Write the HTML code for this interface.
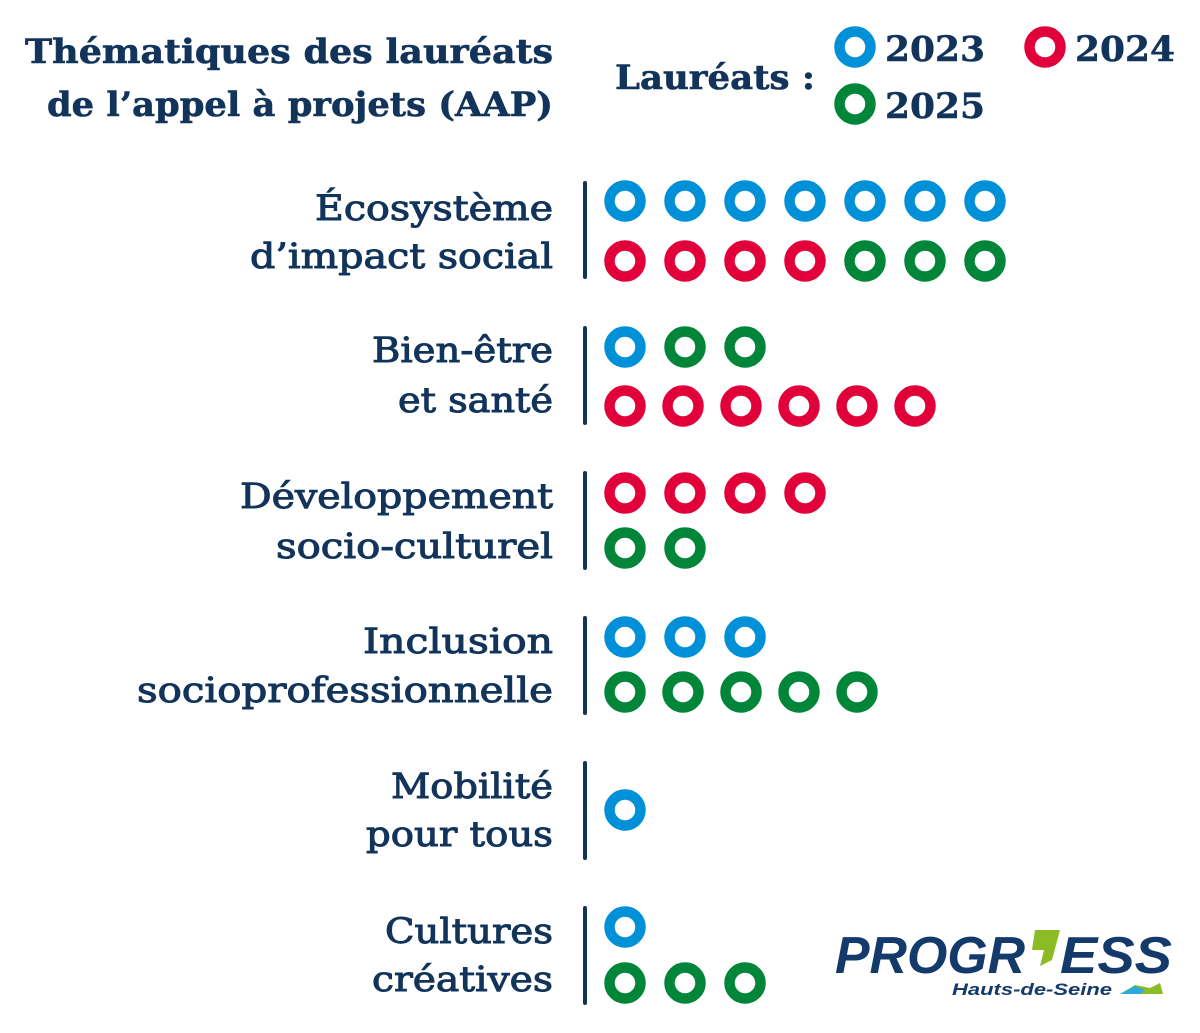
<!DOCTYPE html>
<html><head><meta charset="utf-8"><style>
html,body{margin:0;padding:0;background:#fff;}
svg{display:block;}
text{font-family:"DejaVu Serif","Liberation Serif",serif;fill:#12345b;}
.t{font-weight:bold;font-size:34px;stroke:#12345b;stroke-width:0.6;}
.l{font-size:35px;stroke:#12345b;stroke-width:1;}
.y{font-weight:bold;font-size:35px;stroke:#12345b;stroke-width:0.5;}
</style></head><body>
<svg width="1200" height="1033" viewBox="0 0 1200 1033" xmlns="http://www.w3.org/2000/svg">
<defs>
<g id="b"><circle r="15.5" fill="none" stroke="#0090d8" stroke-width="10.5"/></g>
<g id="r"><circle r="15.5" fill="none" stroke="#e2003a" stroke-width="10.5"/></g>
<g id="g"><circle r="15.5" fill="none" stroke="#008539" stroke-width="10.5"/></g>
</defs>
<text class="t" x="553" y="63" text-anchor="end" textLength="528" lengthAdjust="spacingAndGlyphs">Thématiques des lauréats</text>
<text class="t" x="553" y="116" text-anchor="end" textLength="506" lengthAdjust="spacingAndGlyphs">de l’appel à projets (AAP)</text>
<text class="t" x="615" y="89" textLength="200" lengthAdjust="spacingAndGlyphs">Lauréats :</text>
<use href="#b" x="855" y="47"/><text class="y" x="885" y="61" textLength="100" lengthAdjust="spacingAndGlyphs">2023</text>
<use href="#r" x="1045" y="47"/><text class="y" x="1075" y="61" textLength="100" lengthAdjust="spacingAndGlyphs">2024</text>
<use href="#g" x="855" y="104"/><text class="y" x="885" y="118" textLength="100" lengthAdjust="spacingAndGlyphs">2025</text>

<g stroke="#12345b" stroke-width="4" stroke-linecap="round">
<line x1="585" y1="183" x2="585" y2="277"/>
<line x1="585" y1="328" x2="585" y2="423"/>
<line x1="585" y1="473" x2="585" y2="568"/>
<line x1="585" y1="618" x2="585" y2="713"/>
<line x1="585" y1="763" x2="585" y2="858"/>
<line x1="585" y1="908" x2="585" y2="1003"/>
</g>

<g text-anchor="end">
<text class="l" x="553" y="220" textLength="238" lengthAdjust="spacingAndGlyphs">Écosystème</text>
<text class="l" x="553" y="268" textLength="303" lengthAdjust="spacingAndGlyphs">d’impact social</text>
<text class="l" x="553" y="362" textLength="181" lengthAdjust="spacingAndGlyphs">Bien-être</text>
<text class="l" x="553" y="412" textLength="155" lengthAdjust="spacingAndGlyphs">et santé</text>
<text class="l" x="553" y="508" textLength="313" lengthAdjust="spacingAndGlyphs">Développement</text>
<text class="l" x="553" y="558" textLength="277" lengthAdjust="spacingAndGlyphs">socio-culturel</text>
<text class="l" x="553" y="653" textLength="190" lengthAdjust="spacingAndGlyphs">Inclusion</text>
<text class="l" x="553" y="702" textLength="416" lengthAdjust="spacingAndGlyphs">socioprofessionnelle</text>
<text class="l" x="553" y="798" textLength="162" lengthAdjust="spacingAndGlyphs">Mobilité</text>
<text class="l" x="553" y="846" textLength="187" lengthAdjust="spacingAndGlyphs">pour tous</text>
<text class="l" x="553" y="943" textLength="168" lengthAdjust="spacingAndGlyphs">Cultures</text>
<text class="l" x="553" y="991" textLength="181" lengthAdjust="spacingAndGlyphs">créatives</text>
</g>

<use href="#b" x="625" y="201"/><use href="#b" x="685" y="201"/><use href="#b" x="745" y="201"/><use href="#b" x="805" y="201"/><use href="#b" x="865" y="201"/><use href="#b" x="925" y="201"/><use href="#b" x="985" y="201"/>
<use href="#r" x="625" y="261"/><use href="#r" x="685" y="261"/><use href="#r" x="745" y="261"/><use href="#r" x="805" y="261"/><use href="#g" x="865" y="261"/><use href="#g" x="925" y="261"/><use href="#g" x="985" y="261"/>
<use href="#b" x="625" y="347"/><use href="#g" x="685" y="347"/><use href="#g" x="745" y="347"/>
<use href="#r" x="625" y="406"/><use href="#r" x="683" y="406"/><use href="#r" x="741" y="406"/><use href="#r" x="799" y="406"/><use href="#r" x="857" y="406"/><use href="#r" x="915" y="406"/>
<use href="#r" x="625" y="493"/><use href="#r" x="685" y="493"/><use href="#r" x="745" y="493"/><use href="#r" x="805" y="493"/>
<use href="#g" x="625" y="548"/><use href="#g" x="685" y="548"/>
<use href="#b" x="625" y="637"/><use href="#b" x="685" y="637"/><use href="#b" x="745" y="637"/>
<use href="#g" x="625" y="692"/><use href="#g" x="683" y="692"/><use href="#g" x="741" y="692"/><use href="#g" x="799" y="692"/><use href="#g" x="857" y="692"/>
<use href="#b" x="625" y="810"/>
<use href="#b" x="625" y="927"/>
<use href="#g" x="625" y="983"/><use href="#g" x="685" y="983"/><use href="#g" x="745" y="983"/>

<text x="835" y="973" style="font-family:'Liberation Sans',sans-serif;font-weight:bold;font-style:italic;font-size:52px;fill:#14396b" textLength="190" lengthAdjust="spacingAndGlyphs">PROGR</text>
<path d="M1035 930 L1060 930 L1052 960 L1040 966 L1044 950 L1032 950 Z" fill="#8dbb25"/>
<text x="1060" y="973" style="font-family:'Liberation Sans',sans-serif;font-weight:bold;font-style:italic;font-size:52px;fill:#14396b" textLength="112" lengthAdjust="spacingAndGlyphs">ESS</text>
<text x="952" y="995" style="font-family:'Liberation Sans',sans-serif;font-weight:bold;font-style:italic;font-size:17px;fill:#14396b" textLength="160" lengthAdjust="spacingAndGlyphs">Hauts-de-Seine</text>
<path d="M1120 994 L1135 985 L1150 988 L1160 983 L1163 994 Z" fill="#8dbb25"/>
<path d="M1120 994 L1135 986 L1145 990 L1140 994 Z" fill="#29abe2"/>
</svg>
</body></html>
